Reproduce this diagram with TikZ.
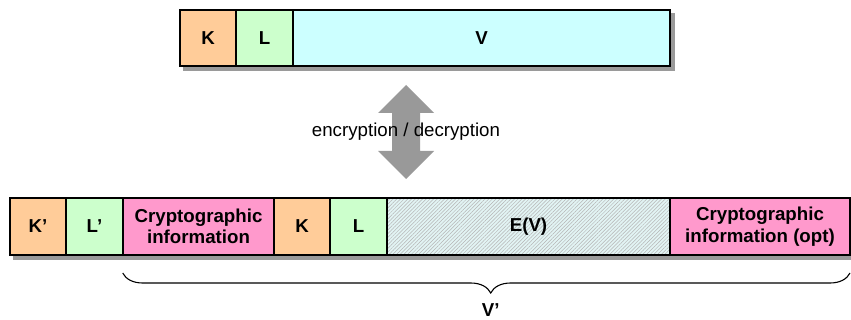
\documentclass[tikz,border=0pt]{standalone}
\usepackage{fontspec}
\setmainfont{Liberation Sans}
\usetikzlibrary{patterns.meta,decorations.pathreplacing,backgrounds,calc}

\definecolor{keycol}{HTML}{FFCC99}
\definecolor{lencol}{HTML}{CCFFCC}
\definecolor{valcol}{HTML}{CCFFFF}
\definecolor{cryptcol}{HTML}{FF99CC}
\definecolor{hatchbase}{HTML}{E2F4F4}
\definecolor{hatchline}{HTML}{B4B4B4}
\definecolor{shadowcol}{HTML}{9A9A9A}
\definecolor{arrowcol}{HTML}{999999}

\tikzset{
  cell/.style={draw=black, line width=1.2pt, rectangle, inner sep=0pt,
    align=center, font=\fontsize{18.7}{21.5}\selectfont\bfseries},
  topcell/.style={cell, minimum height=56pt},
  botcell/.style={cell, minimum height=57pt},
  keycell/.style={fill=keycol},
  lencell/.style={fill=lencol},
  valcell/.style={fill=valcol},
  cryptcell/.style={fill=cryptcol},
  enccell/.style={preaction={fill=hatchbase},
    preaction={pattern={Lines[angle=45,distance=2.6pt,line width=0.5pt]},
      pattern color=hatchline}},
  shadowbox/.style={fill=shadowcol},
  bracepath/.style={draw=black, line width=1.1pt,
    decorate, decoration={brace, amplitude=20pt, aspect=0.494}},
}

\begin{document}
\begin{tikzpicture}[x=1pt, y=-1pt]
  \useasboundingbox (0,0) rectangle (851,320);

  % record before encryption: K | L | V
  \node[topcell, keycell, minimum width=56pt]  (k)  at (208,38)   {K};
  \node[topcell, lencell, minimum width=57pt]  (l)  at (264.5,38) {L};
  \node[topcell, valcell, minimum width=377pt] (v)  at (481.5,38) {V};

  % encrypted record: K' | L' | crypto info | K | L | E(V) | crypto info (opt)
  \node[botcell, keycell, minimum width=56pt]   (k2) at (38,226.5)    {K’};
  \node[botcell, lencell, minimum width=57pt]   (l2) at (94.5,226.5)  {L’};
  \node[botcell, cryptcell, minimum width=151pt] (c1) at (198.5,226.5)
       {Cryptographic\\information};
  \node[botcell, keycell, minimum width=56pt]   (k3) at (302,226.5)   {K};
  \node[botcell, lencell, minimum width=57pt]   (l3) at (358.5,226.5) {L};
  \node[botcell, enccell, minimum width=283pt]  (ev) at (528.5,226.5) {E(V)};
  \node[botcell, cryptcell, minimum width=180pt] (c2) at (760,226.5)
       {Cryptographic\\information (opt)};

  % drop shadows behind both bars
  \begin{scope}[on background layer]
    \fill[shadowbox] ($(k.north west)+(4,4)$) rectangle ($(v.south east)+(4,4)$);
    \fill[shadowbox] ($(k2.north west)+(4,4)$) rectangle ($(c2.south east)+(1,4)$);
  \end{scope}

  % two-way arrow between the records
  \fill[arrowcol] (406,85) -- (434,113) -- (420,113) -- (420,151) -- (434,151)
    -- (406,179) -- (378,151) -- (392,151) -- (392,113) -- (378,113) -- cycle;
  \node[font=\fontsize{18.7}{21.5}\selectfont] (ed) at (406,131.5)
       {encryption / decryption};

  % brace spanning the new value V'
  \coordinate (braceR) at (850,273);
  \coordinate (braceL) at (122.7,273);
  \draw[bracepath] (braceR) -- (braceL);
  \node[font=\fontsize{18.7}{21.5}\selectfont\bfseries] (vp) at (490.7,310.5) {V’};
\end{tikzpicture}
\end{document}
